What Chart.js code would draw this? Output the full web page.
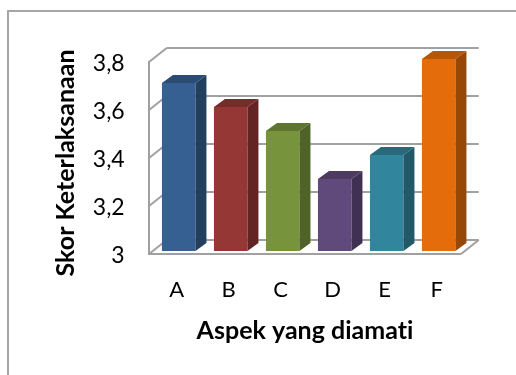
<!DOCTYPE html>
<html>
<head>
<meta charset="utf-8">
<style>
  html, body { margin: 0; padding: 0; background: #fff; }
  #wrap { position: relative; width: 516px; height: 375px; overflow: hidden; }
  #frame { position: absolute; left: 7px; top: 10px; width: 520px; height: 380px; border: 2px solid #a6a6a6; box-sizing: border-box; }
  canvas { position: absolute; left: 0; top: 0; }
</style>
<script src="https://cdn.jsdelivr.net/npm/chart.js@4"></script>
</head>
<body>
<div id="wrap">
  <div id="frame"></div>
  <canvas id="grafico" width="516" height="375"></canvas>
</div>
<script>
var aspek = ['A', 'B', 'C', 'D', 'E', 'F'];
var skor = [3.7, 3.6, 3.5, 3.3, 3.4, 3.8];
var skorMin = 3;
var skorMax = 3.8;
var warnaDepan = ['#376092', '#953735', '#77933c', '#604a7b', '#31859c', '#e46c0a'];
var warnaSisi = ['#233f5f', '#632423', '#4f6228', '#403152', '#215968', '#974806'];
var warnaAtas = ['#2a4b73', '#772c2a', '#5f752f', '#4d3b62', '#276a7c', '#b65708'];
var judulX = 'Aspek yang diamati';
var judulY = 'Skor Keterlaksanaan';

var fonte = 'Lato, "Open Sans", sans-serif';

// offsets of the fake 3D box, relative to the plane the bars stand on
var lantai = { dx: -3.7, dy: 3 };
var dinding = { dx: 14, dy: -11 };
var kedalamanBatang = { dx: 11, dy: -8 };

function garis(ctx, x1, y1, x2, y2) {
  ctx.beginPath();
  ctx.moveTo(x1, y1);
  ctx.lineTo(x2, y2);
  ctx.stroke();
}

// walls, floor and gridlines go behind the bars
var kotak3d = {
  id: 'kotak3d',
  beforeDatasetsDraw: function (chart) {
    var ctx = chart.ctx, y = chart.scales.y, a = chart.chartArea;
    var xKiri = a.left + lantai.dx, xKanan = a.right + lantai.dx;
    var xBelakangKiri = a.left + dinding.dx, xBelakangKanan = a.right + dinding.dx;
    ctx.save();
    ctx.strokeStyle = '#a0a0a0';
    ctx.lineWidth = 2;
    y.ticks.forEach(function (t) {
      var py = y.getPixelForValue(t.value);
      var depan = py + lantai.dy, belakang = py + dinding.dy;
      garis(ctx, xBelakangKiri, belakang, xBelakangKanan, belakang);
      garis(ctx, xKiri, depan, xBelakangKiri, belakang);
    });
    var dasar = y.getPixelForValue(y.min), puncak = y.getPixelForValue(y.max);
    garis(ctx, xKiri, puncak + lantai.dy - 1, xKiri, dasar + lantai.dy + 1);
    garis(ctx, xKiri, dasar + lantai.dy, xKanan, dasar + lantai.dy);
    garis(ctx, xKanan, dasar + lantai.dy, xBelakangKanan, dasar + dinding.dy);
    ctx.restore();
  },
  afterDatasetsDraw: function (chart) {
    var ctx = chart.ctx;
    ctx.save();
    chart.getDatasetMeta(0).data.forEach(function (bar, i) {
      var kiri = bar.x - bar.width / 2, kanan = bar.x + bar.width / 2;
      var dx = kedalamanBatang.dx, dy = kedalamanBatang.dy;
      ctx.fillStyle = warnaSisi[i];
      ctx.beginPath();
      ctx.moveTo(kanan, bar.y);
      ctx.lineTo(kanan + dx, bar.y + dy);
      ctx.lineTo(kanan + dx, bar.base + dy);
      ctx.lineTo(kanan, bar.base);
      ctx.closePath();
      ctx.fill();
      ctx.fillStyle = warnaAtas[i];
      ctx.beginPath();
      ctx.moveTo(kiri, bar.y);
      ctx.lineTo(kiri + dx, bar.y + dy);
      ctx.lineTo(kanan + dx, bar.y + dy);
      ctx.lineTo(kanan, bar.y);
      ctx.closePath();
      ctx.fill();
    });
    ctx.restore();
  },
  afterDraw: function (chart) {
    var ctx = chart.ctx;
    ctx.save();
    ctx.fillStyle = '#000';
    ctx.font = 'bold 25px ' + fonte;
    ctx.letterSpacing = '0.01px';
    ctx.textAlign = 'center';
    ctx.textBaseline = 'middle';
    ctx.fillText(judulX, 305, 331);
    ctx.translate(66, 163);
    ctx.rotate(-Math.PI / 2);
    ctx.fillText(judulY, 0, 0);
    ctx.restore();
  }
};

var ctx = document.getElementById('grafico').getContext('2d');
var chart = new Chart(ctx, {
  type: 'bar',
  data: {
    labels: aspek,
    datasets: [{
      data: skor,
      base: skorMin,
      backgroundColor: warnaDepan,
      barPercentage: 0.644,
      categoryPercentage: 1
    }]
  },
  options: {
    responsive: false,
    animation: false,
    layout: { padding: { left: 90, right: 51.3, top: 59, bottom: 0 } },
    plugins: { legend: { display: false }, tooltip: { enabled: false } },
    scales: {
      x: {
        grid: { display: false },
        border: { display: false },
        ticks: { color: '#000', font: { family: fonte, size: 22 }, padding: 18, labelOffset: -2, maxRotation: 0 },
        afterFit: function (s) { s.height = 124; }
      },
      y: {
        min: skorMin,
        max: skorMax,
        grid: { display: false },
        border: { display: false },
        ticks: {
          stepSize: 0.2,
          color: '#000',
          font: { family: fonte, size: 23 },
          padding: 20,
          labelOffset: 5,
          callback: function (v) { return String(Math.round(v * 10) / 10).replace('.', ','); }
        },
        afterFit: function (s) { s.width = 62.7; }
      }
    }
  },
  plugins: [kotak3d]
});
</script>
</body>
</html>
